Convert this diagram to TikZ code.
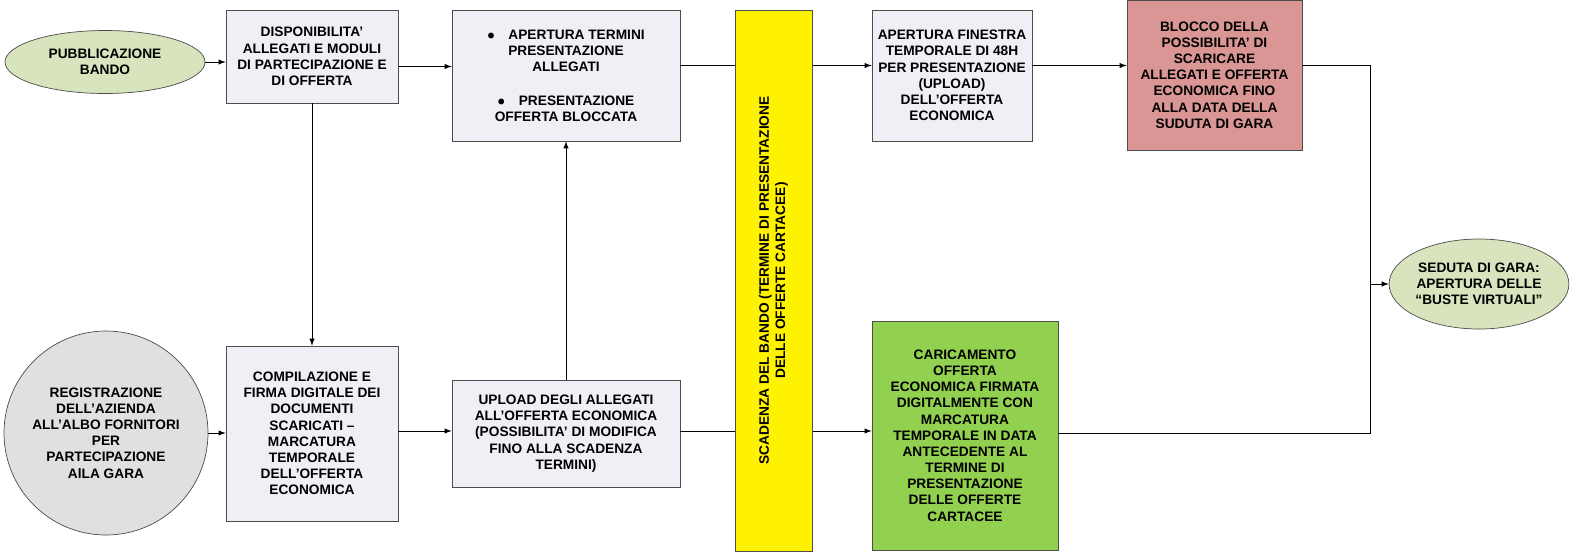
\documentclass[tikz,border=0pt]{standalone}
\usepackage{fontspec}
\setmainfont{Liberation Sans}
\usetikzlibrary{arrows,shapes.geometric,positioning}
\definecolor{boxfill}{HTML}{EEF0F5}
\definecolor{ovalfill}{HTML}{D7E4BD}
\definecolor{redfill}{HTML}{D99694}
\definecolor{greenfill}{HTML}{92D050}
\begin{document}
\begin{tikzpicture}[x=0.02cm,y=-0.02cm,>=latex,
  every node/.style={font=\fontsize{7.8}{9.2}\selectfont\bfseries,align=center,draw=black!70,inner sep=1pt},
  stepbox/.style={rectangle,fill=boxfill},
  oval/.style={ellipse,fill=ovalfill,inner sep=0pt}]
  \useasboundingbox (0,0) rectangle (1580,559);
  % top row
  \node[oval,minimum width=200*0.02cm,minimum height=63*0.02cm] (pub) at (105,62) {PUBBLICAZIONE\\BANDO};
  \node[stepbox,minimum width=172*0.02cm,minimum height=93*0.02cm] (disp) at (312,56.5) {DISPONIBILITA’\\ALLEGATI E MODULI\\DI PARTECIPAZIONE E\\DI OFFERTA};
  \node[stepbox,minimum width=228*0.02cm,minimum height=131*0.02cm] (apert) at (566,75.5) {$\bullet$\quad APERTURA TERMINI\\PRESENTAZIONE\\ALLEGATI\\[10pt] $\bullet$\quad PRESENTAZIONE\\OFFERTA BLOCCATA};
  \node[stepbox,minimum width=160*0.02cm,minimum height=131*0.02cm] (fin) at (952,75.5) {APERTURA FINESTRA\\TEMPORALE DI 48H\\PER PRESENTAZIONE\\(UPLOAD)\\DELL’OFFERTA\\ECONOMICA};
  \node[stepbox,fill=redfill,minimum width=175*0.02cm,minimum height=150*0.02cm] (blocco) at (1214.5,75) {BLOCCO DELLA\\POSSIBILITA’ DI\\SCARICARE\\ALLEGATI E OFFERTA\\ECONOMICA FINO\\ALLA DATA DELLA\\SUDUTA DI GARA};
  \node[oval,minimum width=156*0.02cm,minimum height=90*0.02cm] (seduta) at (1479,284) {SEDUTA DI GARA:\\APERTURA DELLE\\“BUSTE VIRTUALI”};
  % bottom row
  \node[circle,fill=black!12,minimum size=204*0.02cm,inner sep=0pt] (reg) at (106,433) {REGISTRAZIONE\\DELL’AZIENDA\\ALL’ALBO FORNITORI\\PER\\PARTECIPAZIONE\\AlLA GARA};
  \node[stepbox,minimum width=172*0.02cm,minimum height=175*0.02cm] (comp) at (312,433.5) {COMPILAZIONE E\\FIRMA DIGITALE DEI\\DOCUMENTI\\SCARICATI –\\MARCATURA\\TEMPORALE\\DELL’OFFERTA\\ECONOMICA};
  \node[stepbox,minimum width=228*0.02cm,minimum height=107*0.02cm] (upl) at (566,433.5) {UPLOAD DEGLI ALLEGATI\\ALL’OFFERTA ECONOMICA\\(POSSIBILITA’ DI MODIFICA\\FINO ALLA SCADENZA\\TERMINI)};
  \node[stepbox,fill=greenfill,minimum width=186*0.02cm,minimum height=229*0.02cm] (car) at (965,435.5) {CARICAMENTO\\OFFERTA\\ECONOMICA FIRMATA\\DIGITALMENTE CON\\MARCATURA\\TEMPORALE IN DATA\\ANTECEDENTE AL\\TERMINE DI\\PRESENTAZIONE\\DELLE OFFERTE\\CARTACEE};
  \coordinate (join) at (1370,284);
  % connectors
  \draw[->] (pub) -- (disp.west|-pub);
  \draw[->] ([yshift=-0.2cm]disp.east) -- ([yshift=-0.2cm]disp.east-|apert.west);
  \draw[->] ([yshift=0.2cm]apert.east) -- ([yshift=0.2cm]apert.east-|fin.west);
  \draw[->] ([yshift=0.2cm]fin.east) -- ([yshift=0.2cm]fin.east-|blocco.west);
  \draw[->] (disp.south) -- (comp.north);
  \draw[->] (reg) -- (comp.west|-reg);
  \draw[->] ([yshift=0.05cm]comp.east) -- ([yshift=0.05cm]comp.east-|upl.west);
  \draw[->] (upl.north) -- (apert.south);
  \draw[->] ([yshift=0.05cm]upl.east) -- ([yshift=0.05cm]upl.east-|car.west);
  \draw ([yshift=0.2cm]blocco.east) -| (join);
  \draw ([yshift=0.05cm]car.east) -| (join);
  \draw[->] (join) -- (seduta.west);
  % deadline bar
  \node[fill=yellow,minimum width=77*0.02cm,minimum height=541*0.02cm,inner sep=0pt] (scad) at (773.5,280.5) {};
  \node[draw=none,rotate=90] (scadtxt) at (scad) {SCADENZA DEL BANDO (TERMINE DI PRESENTAZIONE\\DELLE OFFERTE CARTACEE)};
\end{tikzpicture}
\end{document}
